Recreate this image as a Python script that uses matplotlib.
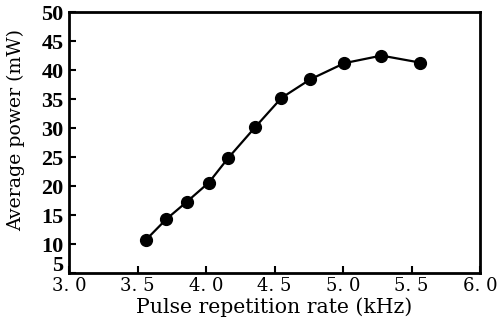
import numpy as np
import matplotlib.transforms as mtransforms
from matplotlib import pyplot as plt

# 读图得到的数据点
rate = [3.56, 3.71, 3.86, 4.02, 4.16, 4.36, 4.55, 4.76, 5.01, 5.28, 5.56]
power = [10.7, 14.3, 17.3, 20.6, 24.8, 30.2, 35.2, 38.4, 41.2, 42.5, 41.3]

xticks = [3.0, 3.5, 4.0, 4.5, 5.0, 5.5, 6.0]
xticklabels = ['3. 0', '3. 5', '4. 0', '4. 5', '5. 0', '5. 5', '6. 0']
yticks = [5, 10, 15, 20, 25, 30, 35, 40, 45, 50]

plt.rcParams['font.family'] = 'Liberation Serif'

fig = plt.figure(figsize=(4.97, 3.27), dpi=100)
ax = fig.add_axes([0.139, 0.165, 0.827, 0.798])

ax.plot(rate, power, color='black', linewidth=1.6, marker='o', markersize=8.5)

ax.set_xlim(3.0, 6.0)
ax.set_ylim(5, 50)
ax.set_xticks(xticks)
ax.set_xticklabels(xticklabels, fontsize=13, family='DejaVu Serif')
ax.set_yticks(yticks)
ax.set_yticklabels([str(v) for v in yticks], fontsize=16, fontweight='bold')
ax.tick_params(direction='in', length=5, width=1.5)
ax.tick_params(axis='x', pad=3)
ax.tick_params(axis='y', pad=4)

# 底部的 "5" 略微上移，避免和 3.0 重叠
lab5 = ax.get_yticklabels()[0]
lab5.set_transform(lab5.get_transform() +
                   mtransforms.ScaledTranslation(0, 10 / 100, fig.dpi_scale_trans))

for s in ax.spines.values():
    s.set_linewidth(2)

ax.set_xlabel('Pulse repetition rate (kHz)', fontsize=14.7, family='DejaVu Serif')
ax.set_ylabel('Average power (mW)', fontsize=13.6, family='DejaVu Serif')
ax.xaxis.set_label_coords(0.5, -0.095)
ax.yaxis.set_label_coords(-0.107, 0.55)

plt.savefig('out.png', dpi=100)
